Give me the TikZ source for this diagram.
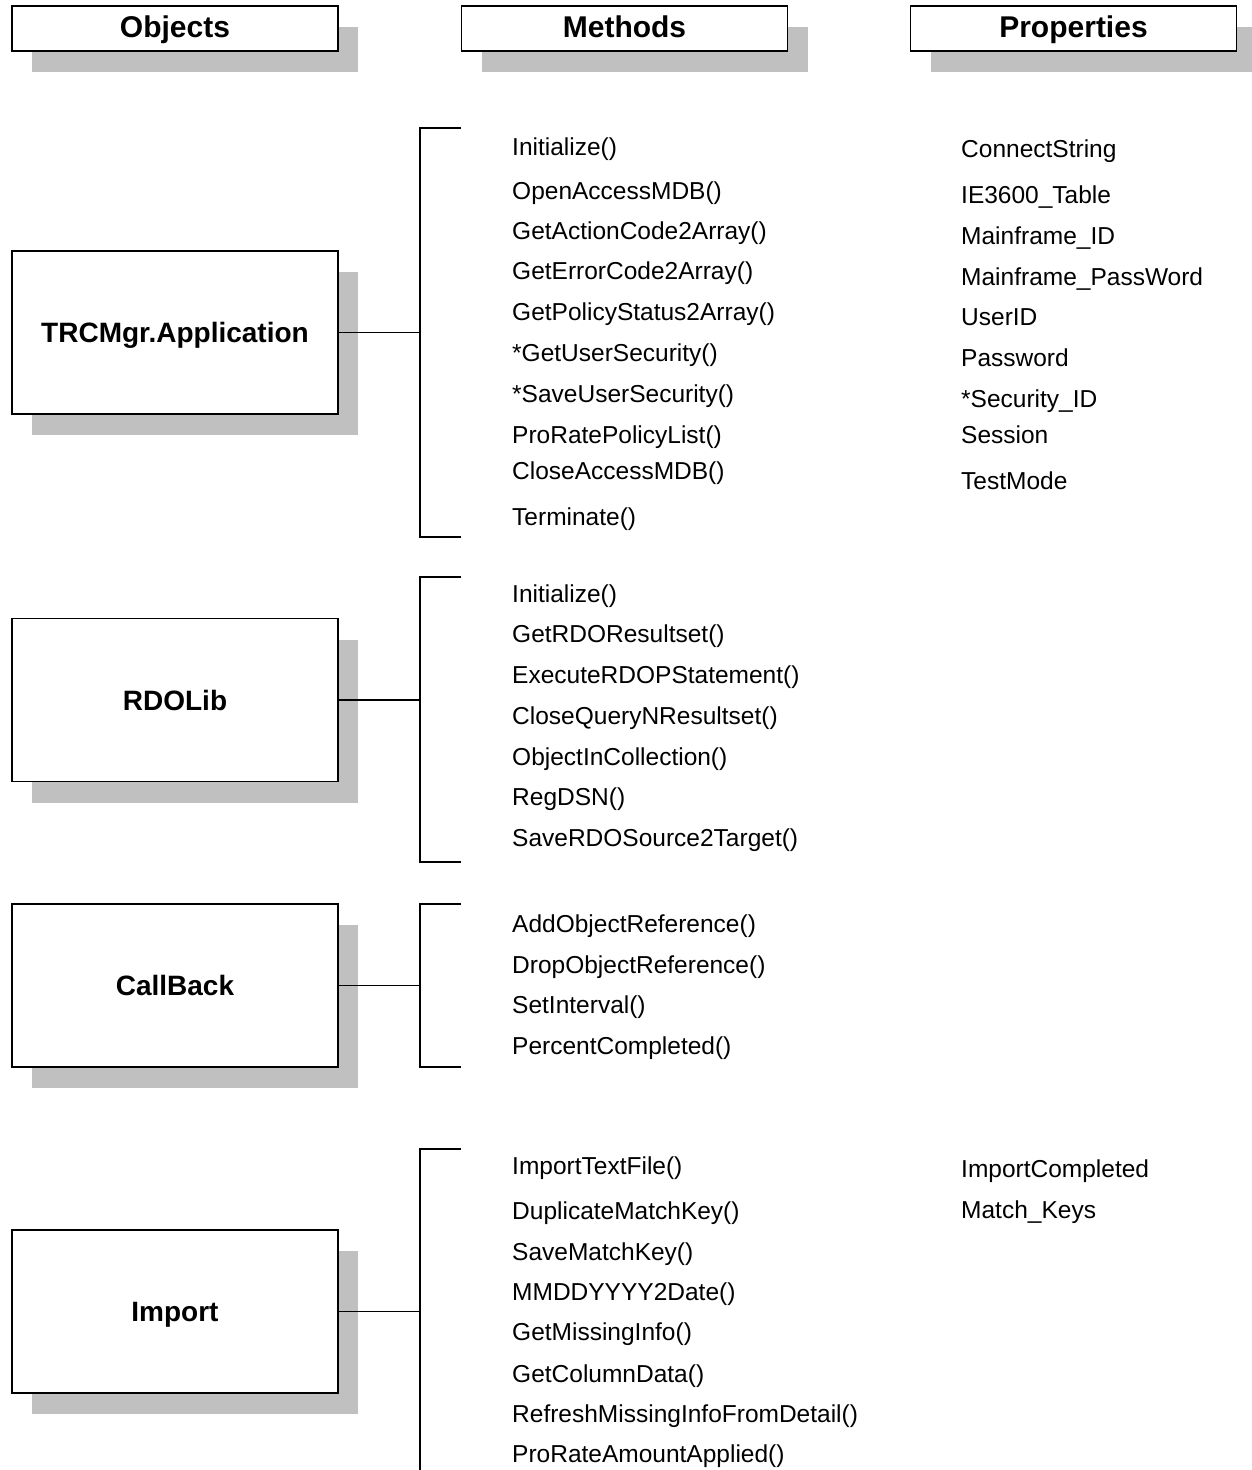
\documentclass[tikz,border=0pt]{standalone}
\usepackage{fontspec}
\setmainfont{Liberation Sans}
\usetikzlibrary{shadows}
\definecolor{shadowgray}{HTML}{C0C0C0}
\begin{document}
\begin{tikzpicture}[x=1pt,y=-1pt,
  boxshadow/.style={drop shadow={shadow xshift=20pt,shadow yshift=-21pt,fill=shadowgray,opacity=1}},
  hdrbox/.style={draw,line width=1.3pt,fill=white,boxshadow,minimum width=326pt,minimum height=45pt,inner sep=0pt,
    text height=21pt,text depth=3pt,font=\fontsize{30}{34}\selectfont\bfseries},
  objbox/.style={draw,line width=1.3pt,fill=white,boxshadow,minimum width=326pt,minimum height=163pt,inner sep=0pt,
    text height=20pt,text depth=0pt,font=\fontsize{28}{32}\selectfont\bfseries},
  item/.style={anchor=base west,inner sep=0pt,font=\fontsize{24.5}{28}\selectfont},
  link/.style={line width=1.2pt}]
\useasboundingbox (0,0) rectangle (1251,1470);

% headers
\node[hdrbox] (hobj) at (175,28.5) {Objects};
\node[hdrbox] (hmet) at (624.5,28.5) {Methods};
\node[hdrbox] (hprop) at (1073.5,28.5) {Properties};

% object boxes
\node[objbox] (trc) at (175,332.5) {TRCMgr.Application};
\node[objbox] (rdo) at (175,700) {RDOLib};
\node[objbox] (cb) at (175,985.5) {CallBack};
\node[objbox] (imp) at (175,1311.5) {Import};

% brackets
\coordinate (b1t) at (420,128); \coordinate (b1tt) at (461,128);
\coordinate (b1b) at (420,537); \coordinate (b1bb) at (461,537);
\coordinate (b2t) at (420,577); \coordinate (b2tt) at (461,577);
\coordinate (b2b) at (420,862); \coordinate (b2bb) at (461,862);
\coordinate (b3t) at (420,904); \coordinate (b3tt) at (461,904);
\coordinate (b3b) at (420,1067); \coordinate (b3bb) at (461,1067);
\coordinate (b4t) at (420,1149); \coordinate (b4tt) at (461,1149);
\coordinate (b4b) at (420,1472);

\draw[link] (b1tt) -- (b1t) -- (b1b) -- (b1bb);
\draw[link] (b2tt) -- (b2t) -- (b2b) -- (b2bb);
\draw[link] (b3tt) -- (b3t) -- (b3b) -- (b3bb);
\draw[link] (b4tt) -- (b4t) -- (b4b);

\draw[link] (trc.east) -- (trc.east -| b1t);
\draw[link] (rdo.east) -- (rdo.east -| b2t);
\draw[link] (cb.east) -- (cb.east -| b3t);
\draw[link] (imp.east) -- (imp.east -| b4t);

% TRCMgr methods
\foreach \t/\y [count=\i] in {Initialize()/148,OpenAccessMDB()/192,GetActionCode2Array()/232,
  GetErrorCode2Array()/272,GetPolicyStatus2Array()/313,*GetUserSecurity()/354,
  *SaveUserSecurity()/395,ProRatePolicyList()/436,CloseAccessMDB()/472,Terminate()/518}
  \node[item] (ma\i) at (512,\y+7) {\t};

% TRCMgr properties
\foreach \t/\y [count=\i] in {ConnectString/150,IE3600\_Table/196,Mainframe\_ID/237,
  Mainframe\_PassWord/278,UserID/318,Password/359,*Security\_ID/400,Session/436,TestMode/482}
  \node[item] (pa\i) at (961,\y+7) {\t};

% RDOLib methods
\foreach \t/\y [count=\i] in {Initialize()/595,GetRDOResultset()/635,ExecuteRDOPStatement()/676,
  CloseQueryNResultset()/717,ObjectInCollection()/758,RegDSN()/798,SaveRDOSource2Target()/839}
  \node[item] (mb\i) at (512,\y+7) {\t};

% CallBack methods
\foreach \t/\y [count=\i] in {AddObjectReference()/925,DropObjectReference()/966,
  SetInterval()/1006,PercentCompleted()/1047}
  \node[item] (mc\i) at (512,\y+7) {\t};

% Import methods
\foreach \t/\y [count=\i] in {ImportTextFile()/1167,DuplicateMatchKey()/1212,SaveMatchKey()/1253,
  MMDDYYYY2Date()/1293,GetMissingInfo()/1333,GetColumnData()/1375,
  RefreshMissingInfoFromDetail()/1415,ProRateAmountApplied()/1455}
  \node[item] (md\i) at (512,\y+7) {\t};

% Import properties
\node[item] (pd1) at (961,1170+7) {ImportCompleted};
\node[item] (pd2) at (961,1211+7) {Match\_Keys};
\end{tikzpicture}
\end{document}
